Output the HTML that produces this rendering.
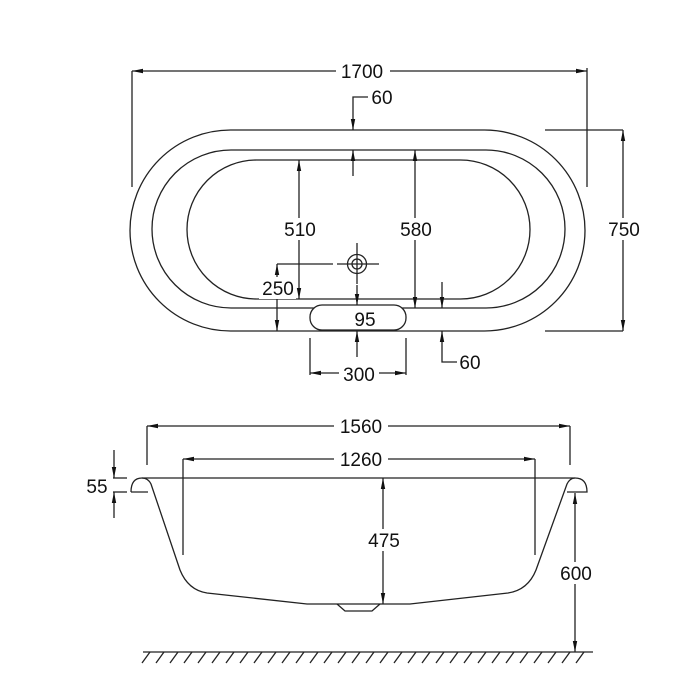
<!DOCTYPE html>
<html><head><meta charset="utf-8"><style>
html,body{margin:0;padding:0;background:#fff;}
svg{display:block;}
text{font-family:"Liberation Sans",sans-serif;font-size:19px;fill:#111;text-anchor:middle;}
</style></head><body>
<svg width="700" height="700" viewBox="0 0 700 700" xmlns="http://www.w3.org/2000/svg">
<defs>
<marker id="a" markerUnits="userSpaceOnUse" markerWidth="12" markerHeight="8" refX="11" refY="3" orient="auto-start-reverse">
<path d="M0,0.8 L11,3 L0,5.2 Z" fill="#111"/>
</marker>
</defs>
<rect width="700" height="700" fill="#fff"/>
<g fill="none" stroke="#222" stroke-width="1.3">
<!-- top view stadiums -->
<rect x="130" y="130" width="455" height="201" rx="100.5"/>
<rect x="152" y="150" width="413" height="158" rx="79"/>
<rect x="187" y="160" width="343" height="139" rx="69.5"/>
<rect x="310" y="305" width="96" height="25" rx="12" fill="#fff"/>
<!-- 1700 -->
<line x1="132" y1="71" x2="587" y2="71" marker-start="url(#a)" marker-end="url(#a)"/>
<line x1="132" y1="71" x2="132" y2="187"/>
<line x1="587" y1="68" x2="587" y2="187"/>
<!-- 60 top -->
<polyline points="368,97 353,97 353,130" marker-end="url(#a)"/>
<line x1="353" y1="176" x2="353" y2="150" marker-end="url(#a)"/>
<!-- 510 -->
<line x1="299" y1="160" x2="299" y2="299" marker-start="url(#a)" marker-end="url(#a)"/>
<!-- 580 -->
<line x1="415" y1="150" x2="415" y2="308" marker-start="url(#a)" marker-end="url(#a)"/>
<!-- 750 -->
<line x1="623" y1="130" x2="623" y2="331" marker-start="url(#a)" marker-end="url(#a)"/>
<line x1="545" y1="130" x2="623" y2="130"/>
<line x1="545" y1="331" x2="623" y2="331"/>
<!-- drain -->
<circle cx="357" cy="264" r="9.5"/>
<circle cx="357" cy="264" r="5"/>
<line x1="337" y1="264" x2="379" y2="264"/>
<line x1="357" y1="243" x2="357" y2="284"/>
<line x1="277" y1="264" x2="333" y2="264"/>
<!-- 250 -->
<line x1="277" y1="264" x2="277" y2="331" marker-start="url(#a)" marker-end="url(#a)"/>
<!-- 95 -->
<line x1="357" y1="285" x2="357" y2="305" marker-end="url(#a)"/>
<line x1="357" y1="357" x2="357" y2="331" marker-end="url(#a)"/>
<!-- 300 -->
<line x1="310" y1="338" x2="310" y2="375"/>
<line x1="406" y1="338" x2="406" y2="375"/>
<line x1="310" y1="373" x2="406" y2="373" marker-start="url(#a)" marker-end="url(#a)"/>
<!-- 60 bottom -->
<line x1="442" y1="282" x2="442" y2="308" marker-end="url(#a)"/>
<polyline points="457,362 442,362 442,331" marker-end="url(#a)"/>

<!-- side view -->
<line x1="142" y1="478" x2="575" y2="478"/>
<path d="M131,492 Q131,478 142,478 Q148,478 151,484 L180,570 Q188,590 207,593 L307,604 L410,604 L508,593 Q528,590 536,570 L567,484 Q570,478 575,478 Q587,478 587,492 L567,492"/>
<line x1="131" y1="492" x2="148" y2="492"/>
<path d="M337,604 L345,611 L372,611 L380,604"/>
<!-- 1560 -->
<line x1="147" y1="426" x2="570" y2="426" marker-start="url(#a)" marker-end="url(#a)"/>
<line x1="147" y1="426" x2="147" y2="465"/>
<line x1="570" y1="426" x2="570" y2="465"/>
<!-- 1260 -->
<line x1="183" y1="459" x2="535" y2="459" marker-start="url(#a)" marker-end="url(#a)"/>
<line x1="183" y1="459" x2="183" y2="555"/>
<line x1="535" y1="459" x2="535" y2="555"/>
<!-- 475 -->
<line x1="383" y1="478" x2="383" y2="604" marker-start="url(#a)" marker-end="url(#a)"/>
<!-- 600 -->
<line x1="575" y1="493" x2="575" y2="652" marker-start="url(#a)" marker-end="url(#a)"/>
<!-- 55 -->
<line x1="114" y1="450" x2="114" y2="478" marker-end="url(#a)"/>
<line x1="114" y1="518" x2="114" y2="492" marker-end="url(#a)"/>
<line x1="113" y1="478" x2="127" y2="478"/>
<line x1="113" y1="492" x2="127" y2="492"/>
<!-- ground -->
<line x1="143" y1="652" x2="593" y2="652"/>
<path d="M150,652 l-8,11 M164,652 l-8,11 M178,652 l-8,11 M192,652 l-8,11 M206,652 l-8,11 M220,652 l-8,11 M234,652 l-8,11 M248,652 l-8,11 M262,652 l-8,11 M276,652 l-8,11 M290,652 l-8,11 M304,652 l-8,11 M318,652 l-8,11 M332,652 l-8,11 M346,652 l-8,11 M360,652 l-8,11 M374,652 l-8,11 M388,652 l-8,11 M402,652 l-8,11 M416,652 l-8,11 M430,652 l-8,11 M444,652 l-8,11 M458,652 l-8,11 M472,652 l-8,11 M486,652 l-8,11 M500,652 l-8,11 M514,652 l-8,11 M528,652 l-8,11 M542,652 l-8,11 M556,652 l-8,11 M570,652 l-8,11 M584,652 l-8,11"/>
</g>
<!-- label backgrounds -->
<g fill="#fff">
<rect x="336" y="60" width="54" height="22"/>
<rect x="281" y="218" width="40" height="22"/>
<rect x="396" y="218" width="40" height="22"/>
<rect x="604" y="218" width="40" height="22"/>
<rect x="259" y="277" width="37" height="22"/>
<rect x="339" y="362" width="40" height="22"/>
<rect x="334" y="415" width="54" height="22"/>
<rect x="334" y="448" width="54" height="22"/>
<rect x="364" y="529" width="40" height="22"/>
<rect x="556" y="562" width="40" height="22"/>
</g>
<g>
<text x="362" y="78">1700</text>
<text x="382" y="104">60</text>
<text x="300" y="236">510</text>
<text x="416" y="236">580</text>
<text x="624" y="236">750</text>
<text x="278" y="295">250</text>
<text x="365" y="326">95</text>
<text x="359" y="381">300</text>
<text x="470" y="369">60</text>
<text x="361" y="433">1560</text>
<text x="361" y="466">1260</text>
<text x="384" y="547">475</text>
<text x="576" y="580">600</text>
<text x="97" y="493">55</text>
</g>
</svg>
</body></html>
